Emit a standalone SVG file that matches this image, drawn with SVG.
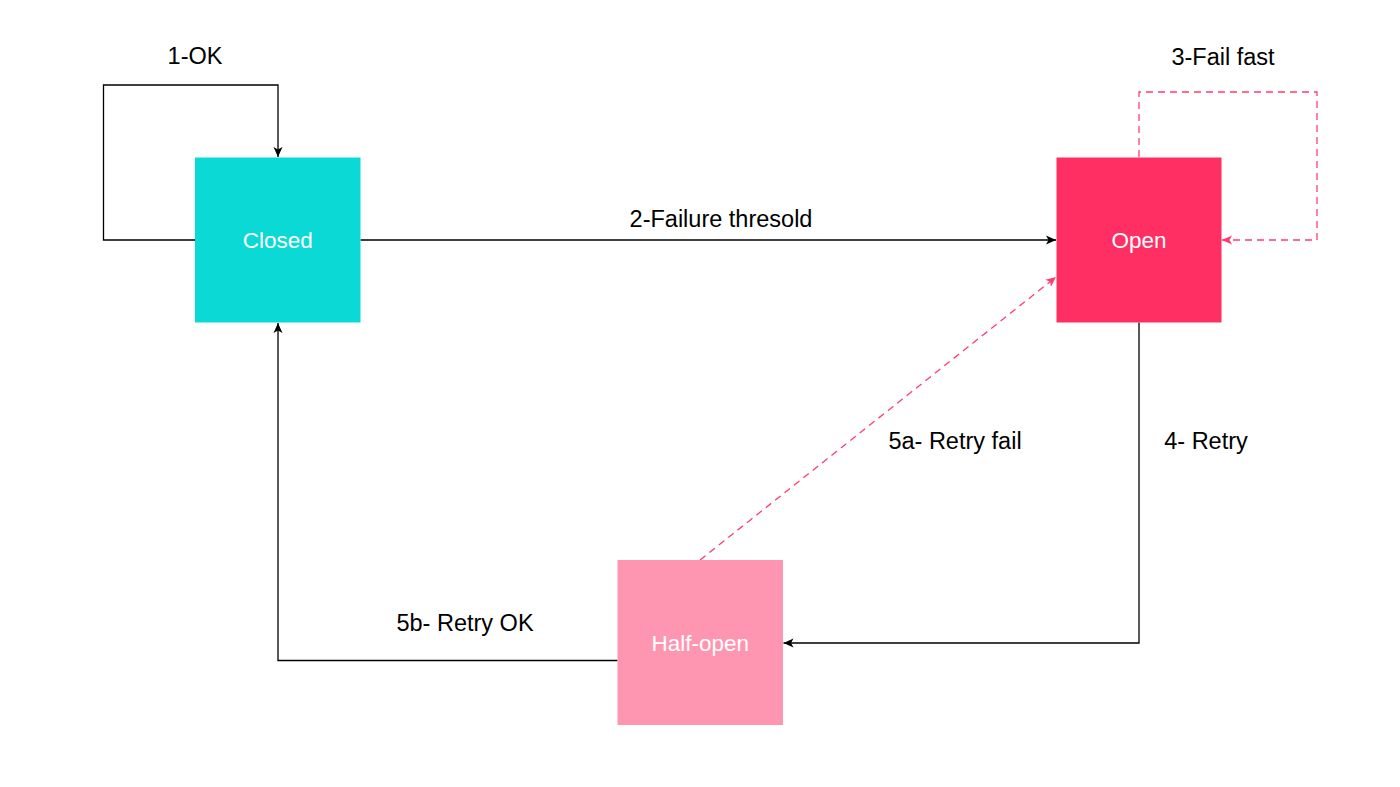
<svg xmlns="http://www.w3.org/2000/svg" width="1400" height="787" viewBox="0 0 1400 787">
<defs>
<style>
.lbl{font-family:"Liberation Sans",Arial,sans-serif;font-size:23.5px;fill:#000;text-anchor:middle}
.nlbl{font-family:"Liberation Sans",Arial,sans-serif;font-size:22.5px;fill:#fff;text-anchor:middle}
.ln{fill:none;stroke:#000;stroke-width:1.3}
.dash{fill:none;stroke:#ff3d6e;stroke-width:1.3;stroke-dasharray:7,5}
</style>
<marker id="ab" markerWidth="12" markerHeight="12" refX="10" refY="6" orient="auto" markerUnits="userSpaceOnUse">
<path d="M0,1.5 L10,6 L0,10.5 L2.5,6 Z" fill="#000"/>
</marker>
<marker id="ap" markerWidth="12" markerHeight="12" refX="10" refY="6" orient="auto" markerUnits="userSpaceOnUse">
<path d="M0,1.5 L10,6 L0,10.5 L2.5,6 Z" fill="#ff3d6e"/>
</marker>
</defs>
<rect width="1400" height="787" fill="#fff"/>
<g id="connectors">
<path class="ln" d="M195,240 H103.5 V85 H278 V157" marker-end="url(#ab)"/>
<path class="ln" d="M360.5,240 H1056" marker-end="url(#ab)"/>
<path class="dash" d="M1139,157 V92 H1317 V240 H1222" marker-end="url(#ap)"/>
<path class="ln" d="M1139,322.5 V643 H783.5" marker-end="url(#ab)"/>
<path class="ln" d="M617.5,660.5 H278 V323" marker-end="url(#ab)"/>
<path class="dash" d="M700,560 L1056,277" marker-end="url(#ap)"/>
</g>
<g id="labels">
<text class="lbl" x="195" y="64">1-OK</text>
<text class="lbl" x="721" y="227">2-Failure thresold</text>
<text class="lbl" x="1223" y="65">3-Fail fast</text>
<text class="lbl" x="955" y="449">5a- Retry fail</text>
<text class="lbl" x="1206" y="449">4- Retry</text>
<text class="lbl" x="465" y="631">5b- Retry OK</text>
</g>
<g id="node-closed">
<rect x="195" y="157.5" width="165.5" height="165" fill="#0bd9d6"/>
<text class="nlbl" x="277.75" y="248">Closed</text>
</g>
<g id="node-open">
<rect x="1056.5" y="157.5" width="165" height="165" fill="#ff2e63"/>
<text class="nlbl" x="1139" y="248">Open</text>
</g>
<g id="node-half-open">
<rect x="617.5" y="560" width="165.5" height="165" fill="#ff96b1"/>
<text class="nlbl" x="700.25" y="650.5">Half-open</text>
</g>
</svg>
